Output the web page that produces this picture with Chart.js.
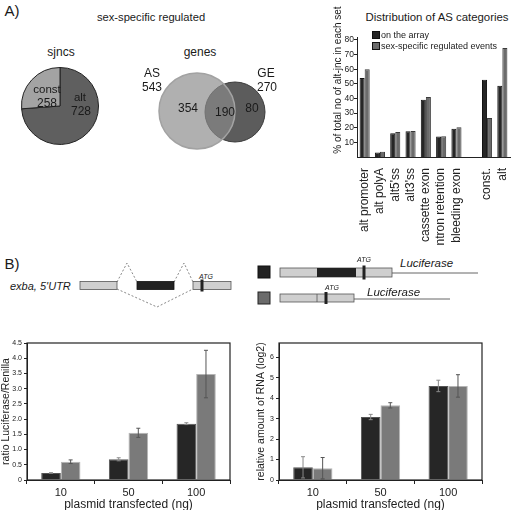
<!DOCTYPE html>
<html>
<head>
<meta charset="utf-8">
<script src="https://cdn.jsdelivr.net/npm/chart.js@4.4.1/dist/chart.umd.min.js"></script>
<style>
  body { margin: 0; background: #fff; }
  #fig { position: relative; width: 520px; height: 510px; overflow: hidden; font-family: "Liberation Sans", Arial, sans-serif; color: #1a1a1a; }
  #fig canvas, #fig svg, .txt { position: absolute; }
  .txt { white-space: nowrap; line-height: 1; transform: translate(-50%, -50%); }
  .txt.l { transform: translate(0, -50%); }
  .txt.v { transform: translate(-50%, -50%) rotate(-90deg); }
  .it { font-style: italic; }
</style>
</head>
<body>
<div id="fig">
  <svg id="schema" width="520" height="510" style="left:0;top:0">
    <!-- exba 5'UTR, alternative exon -->
    <polyline points="117,282 127,263 137,282" fill="none" stroke="#555" stroke-width="0.7" stroke-dasharray="2,2"/>
    <polyline points="174,282 184,263 193,282" fill="none" stroke="#555" stroke-width="0.7" stroke-dasharray="2,2"/>
    <polyline points="117,289 157,307 193,289" fill="none" stroke="#555" stroke-width="0.7" stroke-dasharray="2,2"/>
    <rect x="80" y="281.5" width="37" height="8" fill="#cfcfcf" stroke="#555" stroke-width="0.8"/>
    <rect x="137" y="281.5" width="37" height="8" fill="#222" stroke="#111" stroke-width="0.8"/>
    <rect x="193" y="281.5" width="38" height="8" fill="#cfcfcf" stroke="#555" stroke-width="0.8"/>
    <rect x="200.5" y="279.5" width="3" height="12" fill="#222"/>
    <!-- constructs -->
    <rect x="258" y="266" width="12" height="12" fill="#222" stroke="#111"/>
    <line x1="392" y1="273" x2="478" y2="273" stroke="#666" stroke-width="1"/>
    <rect x="280" y="268" width="112" height="9" fill="#cfcfcf" stroke="#555" stroke-width="0.8"/>
    <rect x="317" y="268" width="39" height="9" fill="#222"/>
    <rect x="362.5" y="265.5" width="3" height="14" fill="#222"/>
    <rect x="258" y="292" width="12" height="12" fill="#6b6b6b" stroke="#222"/>
    <line x1="354" y1="299" x2="450" y2="299" stroke="#666" stroke-width="1"/>
    <rect x="280" y="294" width="74" height="8" fill="#cfcfcf" stroke="#555" stroke-width="0.8"/>
    <line x1="317" y1="294" x2="317" y2="302" stroke="#555" stroke-width="0.8"/>
    <rect x="324.5" y="292" width="3" height="12" fill="#222"/>
  </svg>
  <canvas id="pie" width="80" height="80" style="left:20px;top:66px"></canvas>
  <canvas id="venn" width="150" height="110" style="left:130px;top:60px"></canvas>
  <canvas id="categories" width="240" height="215" style="left:280px;top:30px"></canvas>
  <canvas id="luciferase" width="240" height="177" style="left:0;top:335px"></canvas>
  <canvas id="rna" width="237" height="177" style="left:255px;top:335px"></canvas>
</div>
<script>
// sex-specific regulated junctions
const sjncCategories = ['alt', 'const'];
const sjncCounts = [728, 258];

// genes: AS only, both, GE only
const vennSets = ['AS', 'GE'];
const vennTotals = [543, 270];
const vennParts = [354, 190, 80];

// Distribution of AS categories (%)
const asCategories = ['alt promoter', 'alt polyA', "alt5'ss", "alt3'ss", 'cassette exon',
  'intron retention', 'bleeding exon', '', 'const.', 'alt'];
const onArray = [54, 3.1, 16.2, 17.6, 39.2, 14, 19.3, null, 52.8, 48.7];
const sexRegulated = [60, 3.6, 17, 17.8, 41, 14.2, 20.3, null, 26.7, 74.5];
const seriesNames = ['on the array', 'sex-specific regulated events'];

// B) luciferase reporter
const doseLabels = ['10', '50', '100'];
const ratioLong = [0.23, 0.68, 1.85];
const ratioLongErr = [0.01, 0.05, 0.03];
const ratioShort = [0.6, 1.55, 3.48];
const ratioShortErr = [0.06, 0.15, 0.78];
const rnaLong = [0.62, 3.08, 4.6];
const rnaLongErr = [0.52, 0.13, 0.28];
const rnaShort = [0.58, 3.65, 4.6];
const rnaShortErr = [0.52, 0.13, 0.55];

const darkFill = '#262626';
const grayFill = '#6b6b6b';
const fig = document.getElementById('fig');
Chart.defaults.font.family = '"Liberation Sans", Arial, sans-serif';
Chart.defaults.color = '#222';

function label(text, x, y, size, cls) {
  const d = document.createElement('div');
  d.className = 'txt' + (cls ? ' ' + cls : '');
  d.style.left = x + 'px';
  d.style.top = y + 'px';
  d.style.fontSize = size + 'px';
  d.textContent = text;
  fig.appendChild(d);
  return d;
}

//  Textos panel A
label('A)', 12, 10, 15);
label('sex-specific regulated', 151, 18, 11.2);
label('sjncs', 61, 52, 12);
label('genes', 200, 52, 12);
label(sjncCategories[1], 47, 90, 11.5);
label(sjncCounts[1], 47, 103, 12);
label(sjncCategories[0], 80, 98, 11.5);
label(sjncCounts[0], 81, 111, 12);
label(vennSets[0], 152, 73, 12);
label(vennTotals[0], 152, 87, 12);
label(vennSets[1], 266, 73, 12);
label(vennTotals[1], 267, 87, 12);
label(vennParts[0], 188, 108, 12);
label(vennParts[1], 225, 112, 12);
label(vennParts[2], 252, 108, 12);
label('Distribution of AS categories', 437, 18, 11.4);
label('% of total no of alt-jnc in each set', 338, 80, 10, 'v');

//  Textos panel B
label('B)', 12, 263, 15);
label("exba, 5'UTR", 10, 286, 11, 'l it');
label('ATG', 206, 276, 7, 'it');
label('ATG', 364, 259, 7, 'it');
label('ATG', 332, 287, 7, 'it');
label('Luciferase', 400, 264, 11.5, 'l it');
label('Luciferase', 367, 293, 11.5, 'l it');

// leyenda del grafico de categorias
[darkFill, grayFill].forEach((c, i) => {
  const sq = document.createElement('div');
  sq.style.cssText = `position:absolute;left:372px;top:${31 + i * 11}px;width:6px;height:6px;background:${c};border:0.5px solid #111;`;
  fig.appendChild(sq);
  label(seriesNames[i], 381, 34.5 + i * 11, 9, 'l');
});

const quiet = {
  responsive: false,
  animation: false,
  events: [],
  devicePixelRatio: 1,
  plugins: { legend: { display: false }, tooltip: { enabled: false } }
};

new Chart(document.getElementById('pie'), {
  type: 'pie',
  data: {
    labels: sjncCategories,
    datasets: [{
      data: sjncCounts,
      backgroundColor: ['#5f5f5f', '#a3a3a3'],
      borderColor: '#222',
      borderWidth: 1
    }]
  },
  options: { ...quiet, layout: { padding: 1 } }
});

new Chart(document.getElementById('venn'), {
  type: 'bubble',
  data: {
    datasets: [
      { label: vennSets[0], data: [{ x: 0, y: 0, r: 38 }], backgroundColor: 'rgba(138,138,138,0.68)', borderColor: '#a2a2a2', borderWidth: 1.5, clip: false },
      { label: vennSets[1], data: [{ x: 38, y: -1, r: 30 }], backgroundColor: '#5c5c5c', borderColor: '#3c3c3c', borderWidth: 1, clip: false }
    ]
  },
  options: {
    ...quiet,
    layout: { padding: 0, autoPadding: false },
    scales: {
      x: { display: false, min: -67, max: 83 },
      y: { display: false, min: -59, max: 51 }
    }
  }
});

new Chart(document.getElementById('categories'), {
  type: 'bar',
  data: {
    labels: asCategories,
    datasets: [
      { label: seriesNames[0], data: onArray, backgroundColor: darkFill, borderColor: '#111', borderWidth: 1 },
      { label: seriesNames[1], data: sexRegulated, backgroundColor: grayFill, borderColor: '#3a3a3a', borderWidth: 1 }
    ]
  },
  options: {
    ...quiet,
    datasets: { bar: { categoryPercentage: 0.66, barPercentage: 1 } },
    layout: { padding: { left: 0, right: 5, top: 7, bottom: 0 } },
    scales: {
      x: {
        afterFit: s => { s.height = 88; },
        grid: { display: false },
        border: { color: '#222' },
        ticks: { minRotation: 90, maxRotation: 90, autoSkip: false, font: { size: 12 }, padding: 3 }
      },
      y: {
        min: 0,
        max: 82,
        afterFit: s => { s.width = 77; },
        afterBuildTicks: s => { s.ticks = s.ticks.filter(t => t.value > 0 && t.value % 10 === 0); },
        grid: { drawOnChartArea: false, tickLength: 3, color: '#222' },
        border: { color: '#222' },
        ticks: { font: { size: 8.5 }, padding: 0, includeBounds: false, stepSize: 10 }
      }
    }
  }
});

// barras de error y marco
const errorBars = {
  id: 'errorBars',
  afterDatasetsDraw(chart) {
    const ctx = chart.ctx;
    const y = chart.scales.y;
    ctx.save();
    ctx.lineWidth = 1;
    chart.data.datasets.forEach((ds, i) => {
      ctx.strokeStyle = ds.errColor;
      chart.getDatasetMeta(i).data.forEach((bar, j) => {
        const v = ds.data[j], e = ds.errors[j];
        const top = y.getPixelForValue(v + e), bot = y.getPixelForValue(v - e);
        ctx.beginPath();
        ctx.moveTo(bar.x, top); ctx.lineTo(bar.x, bot);
        ctx.moveTo(bar.x - 2, top); ctx.lineTo(bar.x + 2, top);
        ctx.moveTo(bar.x - 2, bot); ctx.lineTo(bar.x + 2, bot);
        ctx.stroke();
      });
    });
    ctx.restore();
  }
};
const frame = {
  id: 'frame',
  afterDraw(chart) {
    const a = chart.chartArea, ctx = chart.ctx;
    ctx.save();
    ctx.strokeStyle = '#222';
    ctx.lineWidth = 1.2;
    ctx.strokeRect(a.left, a.top, a.right - a.left, a.bottom - a.top);
    ctx.restore();
  }
};

function doseChart(id, long, longErr, short, shortErr, yScale, yTitle, yWidth) {
  return new Chart(document.getElementById(id), {
    type: 'bar',
    data: {
      labels: doseLabels,
      datasets: [
        { data: long, errors: longErr, errColor: '#8a8a8a', backgroundColor: darkFill, borderColor: '#555', borderWidth: 1 },
        { data: short, errors: shortErr, errColor: '#555', backgroundColor: '#7a7a7a', borderColor: '#b5b5b5', borderWidth: 1 }
      ]
    },
    options: {
      ...quiet,
      datasets: { bar: { categoryPercentage: 0.58, barPercentage: 1 } },
      layout: { padding: { top: 8, right: 10, left: 0, bottom: 0 } },
      scales: {
        x: {
          afterFit: s => { s.height = 32; },
          grid: { drawOnChartArea: false, tickLength: 4, color: '#222' },
          border: { color: '#222' },
          ticks: { font: { size: 11 }, padding: 2 },
          title: { display: true, text: 'plasmid transfected (ng)', font: { size: 12 }, padding: 0 }
        },
        y: Object.assign({
          afterFit: s => { s.width = yWidth; },
          grid: { drawOnChartArea: false, tickLength: 3, color: '#222' },
          border: { color: '#222' },
          ticks: { font: { size: 7 }, padding: 2, includeBounds: false },
          title: { display: true, text: yTitle, font: { size: 10.5 }, padding: 0 }
        }, yScale)
      }
    },
    plugins: [errorBars, frame]
  });
}

doseChart('luciferase', ratioLong, ratioLongErr, ratioShort, ratioShortErr,
  { min: 0, max: 4.5, afterBuildTicks: s => { s.ticks = s.ticks.filter(t => Math.round(t.value * 2) === t.value * 2); } },
  'ratio Luciferase/Renilla', 27);

doseChart('rna', rnaLong, rnaLongErr, rnaShort, rnaShortErr,
  { min: 0, max: 6.7, afterBuildTicks: s => { s.ticks = s.ticks.filter(t => Number.isInteger(t.value)); } },
  'relative amount of RNA (log2)', 24);
</script>
</body>
</html>
